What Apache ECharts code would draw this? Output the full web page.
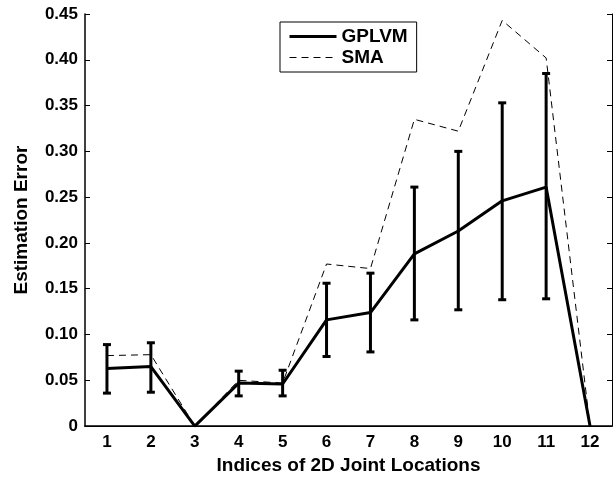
<!DOCTYPE html>
<html>
<head>
<meta charset="utf-8">
<script src="https://cdn.jsdelivr.net/npm/echarts@6/dist/echarts.min.js"></script>
<style>
  html, body { margin: 0; padding: 0; background: #fff; }
  #main { width: 616px; height: 480px; }
</style>
</head>
<body>
<div id="main"></div>
<script>
// indices of the 2D joint locations
const categories = ['1', '2', '3', '4', '5', '6', '7', '8', '9', '10', '11', '12'];
// mean estimation error
const gplvm = [0.063, 0.065, 0, 0.047, 0.046, 0.116, 0.124, 0.188, 0.213, 0.246, 0.261, 0];
const sma = [0.077, 0.078, 0, 0.050, 0.047, 0.177, 0.172, 0.335, 0.322, 0.443, 0.402, 0];
// error bar ends for GPLVM
const errLow = [0.036, 0.037, 0, 0.033, 0.033, 0.076, 0.081, 0.116, 0.127, 0.138, 0.139, 0];
const errHigh = [0.089, 0.091, 0, 0.060, 0.061, 0.156, 0.167, 0.261, 0.300, 0.353, 0.385, 0];
const yTicks = [0, 0.45, 0.05];

const chart = echarts.init(document.getElementById('main'));
const font = 'Liberation Sans, Arial, Helvetica, sans-serif';

const errData = categories.map((c, i) => [i, errLow[i], errHigh[i]]);

function renderErr(params, api) {
  const lo = api.coord([api.value(0), api.value(1)]);
  const hi = api.coord([api.value(0), api.value(2)]);
  if (Math.abs(lo[1] - hi[1]) < 0.5) return null;
  const w = 4;
  const style = { stroke: '#000', lineWidth: 3 };
  return {
    type: 'group',
    children: [
      { type: 'line', shape: { x1: lo[0], y1: lo[1], x2: hi[0], y2: hi[1] }, style: style },
      { type: 'line', shape: { x1: lo[0] - w, y1: lo[1], x2: lo[0] + w, y2: lo[1] }, style: style },
      { type: 'line', shape: { x1: hi[0] - w, y1: hi[1], x2: hi[0] + w, y2: hi[1] }, style: style }
    ]
  };
}

const tickLabel = { color: '#000', fontFamily: font, fontWeight: 'bold', fontSize: 17 };

const option = {
  animation: false,
  backgroundColor: '#fff',
  grid: { left: 85, right: 4, top: 14, bottom: 51 },
  legend: {
    left: 280,
    top: 22,
    orient: 'vertical',
    data: [
      { name: 'GPLVM', lineStyle: { width: 3 } },
      { name: 'SMA', lineStyle: { width: 1 } }
    ],
    backgroundColor: '#fff',
    borderColor: '#000',
    borderWidth: 1,
    borderRadius: 0,
    padding: [5, 9, 5, 8],
    itemGap: 2,
    itemWidth: 47,
    itemHeight: 14,
    itemStyle: { color: 'rgba(0,0,0,0)', borderColor: 'rgba(0,0,0,0)', borderWidth: 0 },
    textStyle: { color: '#000', fontFamily: font, fontWeight: 'bold', fontSize: 19 }
  },
  xAxis: [
    {
      type: 'category',
      data: categories,
      boundaryGap: true,
      axisLine: { lineStyle: { color: '#000', width: 1.5 } },
      axisTick: { inside: true, alignWithLabel: true, length: 5, lineStyle: { color: '#000' } },
      axisLabel: Object.assign({ margin: 8 }, tickLabel),
      splitLine: { show: false },
      name: 'Indices of 2D Joint Locations',
      nameLocation: 'middle',
      nameGap: 29,
      nameTextStyle: { color: '#000', fontFamily: font, fontWeight: 'bold', fontSize: 19 }
    },
    {
      type: 'category',
      data: categories,
      position: 'top',
      boundaryGap: true,
      axisLine: { lineStyle: { color: '#000', width: 1 } },
      axisTick: { inside: true, alignWithLabel: true, length: 5, lineStyle: { color: '#000' } },
      axisLabel: { show: false }
    }
  ],
  yAxis: [
    {
      type: 'value',
      min: yTicks[0],
      max: yTicks[1],
      interval: yTicks[2],
      axisLine: { show: true, lineStyle: { color: '#000', width: 1.5 } },
      axisTick: { show: true, inside: true, length: 5, lineStyle: { color: '#000' } },
      axisLabel: Object.assign({
        margin: 7,
        formatter: v => (Math.abs(v) < 1e-9 ? '0' : v.toFixed(2))
      }, tickLabel),
      splitLine: { show: false },
      name: 'Estimation Error',
      nameLocation: 'middle',
      nameGap: 54,
      nameTextStyle: { color: '#000', fontFamily: font, fontWeight: 'bold', fontSize: 19 }
    },
    {
      type: 'value',
      position: 'right',
      min: yTicks[0],
      max: yTicks[1],
      interval: yTicks[2],
      axisLine: { show: true, lineStyle: { color: '#000', width: 1 } },
      axisTick: { show: true, inside: true, length: 5, lineStyle: { color: '#000' } },
      axisLabel: { show: false },
      splitLine: { show: false }
    }
  ],
  series: [
    {
      name: 'SMA',
      type: 'line',
      data: sma,
      symbol: 'none',
      z: 2,
      itemStyle: { color: '#000' },
      lineStyle: { color: '#000', width: 1, type: [7, 5] }
    },
    {
      name: 'GPLVM',
      type: 'line',
      data: gplvm,
      symbol: 'none',
      z: 3,
      itemStyle: { color: '#000' },
      lineStyle: { color: '#000', width: 3 }
    },
    {
      name: 'err',
      type: 'custom',
      data: errData,
      renderItem: renderErr,
      encode: { x: 0, y: [1, 2] },
      z: 4
    }
  ]
};

chart.setOption(option);
</script>
</body>
</html>
